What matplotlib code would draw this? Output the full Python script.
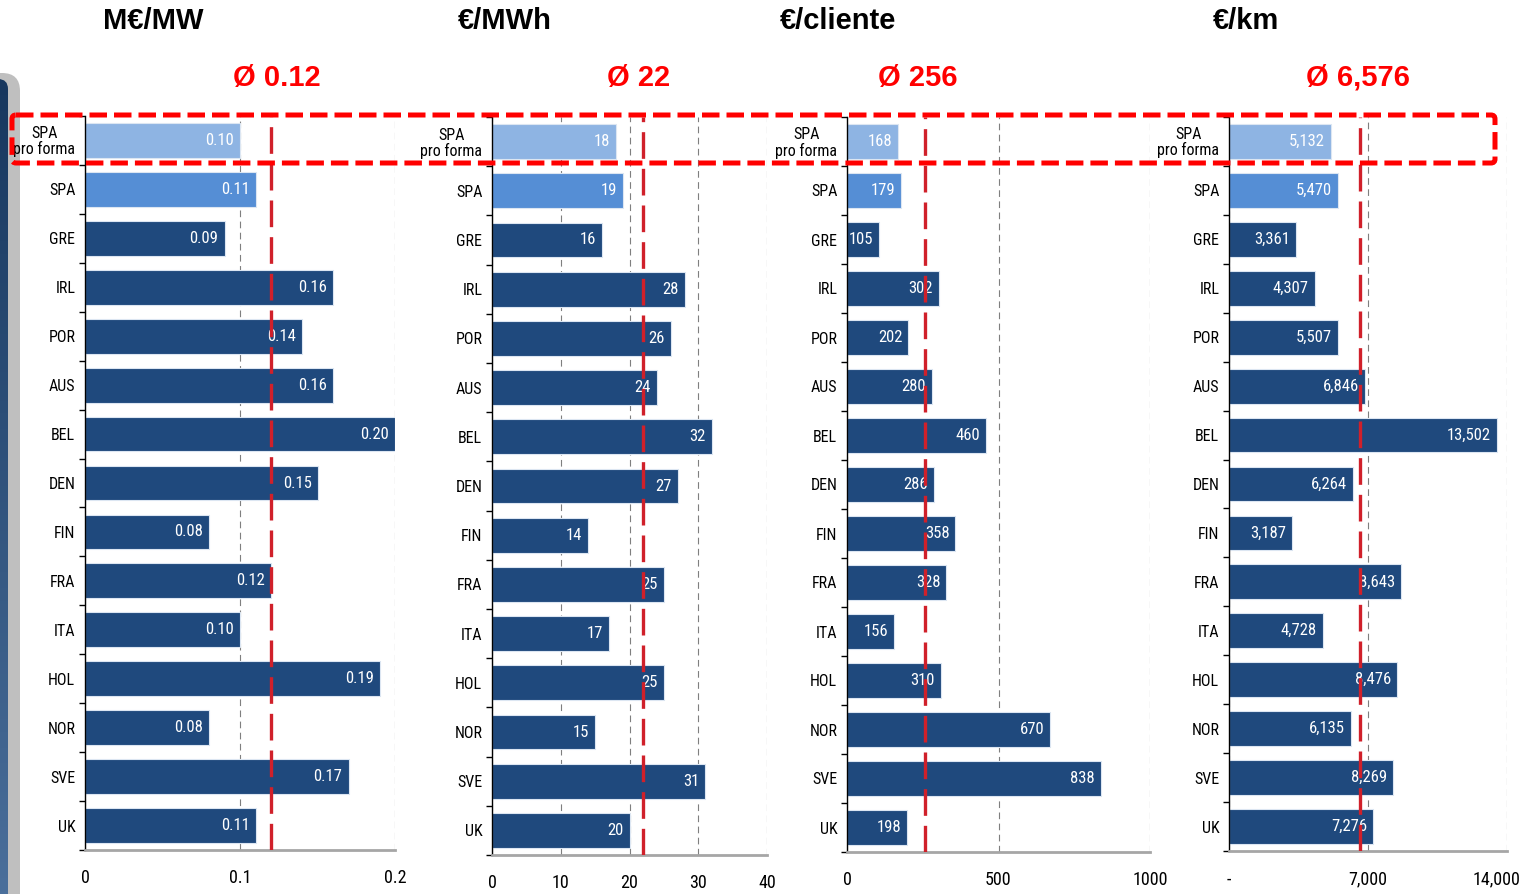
import numpy as np
import matplotlib
matplotlib.use("Agg")
import matplotlib.pyplot as plt
import matplotlib.transforms as mtransforms
from matplotlib import font_manager
from matplotlib.font_manager import FontProperties
from matplotlib.patches import FancyBboxPatch
from matplotlib.ticker import FixedLocator

W, H = 1522, 894

# data
countries = ["SPA\npro forma", "SPA", "GRE", "IRL", "POR", "AUS", "BEL", "DEN",
             "FIN", "FRA", "ITA", "HOL", "NOR", "SVE", "UK"]
eur_mw = [0.10, 0.11, 0.09, 0.16, 0.14, 0.16, 0.20, 0.15, 0.08, 0.12, 0.10, 0.19, 0.08, 0.17, 0.11]
eur_mwh = [18, 19, 16, 28, 26, 24, 32, 27, 14, 25, 17, 25, 15, 31, 20]
eur_cliente = [168, 179, 105, 302, 202, 280, 460, 286, 358, 328, 156, 310, 670, 838, 198]
eur_km = [5132, 5470, 3361, 4307, 5507, 6846, 13502, 6264, 3187, 8643, 4728, 8476, 6135, 8269, 7276]

units = ["M€/MW", "€/MWh", "€/cliente", "€/km"]
averages = [0.12, 22, 256, 6576]
avg_labels = ["Ø 0.12", "Ø 22", "Ø 256", "Ø 6,576"]
x_ticks = [[0, 0.1, 0.2], [0, 10, 20, 30, 40], [0, 500, 1000], [0, 7000, 14000]]
x_ticklabels = [["0", "0.1", "0.2"], ["0", "10", "20", "30", "40"],
                ["0", "500", "1000"], ["-", "7,000", "14,000"]]

series = [eur_mw, eur_mwh, eur_cliente, eur_km]
fmts = [lambda v: f"{v:.2f}", lambda v: f"{v:d}", lambda v: f"{v:d}", lambda v: f"{v:,}"]

# layout (pixels: left, top, right, bottom)
boxes = [(85, 116, 395, 850), (492, 117, 767, 855), (847, 117, 1150, 852), (1229, 117, 1507, 851)]
title_x = [153, 505, 838, 1246]
avg_x = [277, 639, 918, 1358]


def pick_narrow():
    # the chart uses an Arial Narrow look; take the closest condensed face installed
    ttf = font_manager.fontManager.ttflist
    prefs = [("Liberation Sans Narrow", None), ("Arial Narrow", None),
             ("Roboto Condensed", None), ("Noto Sans Condensed", None),
             ("Noto Sans", "condensed"), ("Open Sans Condensed", None),
             ("Open Sans", "condensed"), ("DejaVu Sans Condensed", None),
             ("DejaVu Sans", "condensed"), ("Noto Sans SemiCondensed", None),
             ("Noto Sans", "semi-condensed")]
    for name, stretch in prefs:
        for f in ttf:
            if f.name != name or f.style != "normal":
                continue
            if str(f.weight) not in ("400", "normal", "regular", "book"):
                continue
            if stretch is not None and f.stretch != stretch:
                continue
            return f.fname
    return None


narrow_file = pick_narrow()


def narrow(size):
    if narrow_file:
        return FontProperties(fname=narrow_file, size=size)
    return FontProperties(family="DejaVu Sans", size=size * 0.85)


C_PROFORMA = "#8EB4E3"
C_SPA = "#558ED5"
C_DARK = "#1F497D"
C_AVG = "#D0202A"

fig = plt.figure(figsize=(W / 100, H / 100), dpi=100)


def px_axes(l, t, r, b, **kw):
    return fig.add_axes([l / W, 1 - b / H, (r - l) / W, (b - t) / H], **kw)


# left side decoration
bg = fig.add_axes([0, 0, 1, 1], zorder=-1)
gray = FancyBboxPatch((-30, 73), 50, 900, boxstyle="round,pad=0,rounding_size=18",
                      facecolor="#BFBFBF", edgecolor="none", zorder=1)
bg.add_patch(gray)
blue = FancyBboxPatch((-30, 79), 38, 900, boxstyle="round,pad=0,rounding_size=10",
                      facecolor="none", edgecolor="none", zorder=1)
bg.add_patch(blue)
grad = np.linspace(0, 1, 256).reshape(-1, 1)
cmap = matplotlib.colors.LinearSegmentedColormap.from_list("band", ["#17375E", "#4A6F9B"])
im = bg.imshow(grad, cmap=cmap, extent=(-30, 8, H, 79), aspect="auto", zorder=2)
im.set_clip_path(blue)
bg.set_xlim(0, W)
bg.set_ylim(H, 0)
bg.axis("off")

y = np.arange(len(countries))
colors = [C_PROFORMA, C_SPA] + [C_DARK] * (len(countries) - 2)

for k in range(4):
    l, t, r, b = boxes[k]
    ax = px_axes(l, t, r, b)
    vals = series[k]
    xmax = x_ticks[k][-1]
    ax.barh(y, vals, height=0.71, color=colors, edgecolor="#DCE6F2", linewidth=0.8, zorder=2)
    ax.set_xlim(0, xmax)
    ax.set_ylim(len(countries) - 0.5, -0.5)

    ax.set_yticks(y)
    ax.set_yticklabels(countries, fontproperties=narrow(11.5))
    ax.get_yticklabels()[0].set_multialignment("center")
    ax.get_yticklabels()[0].set_linespacing(1.0)
    ax.yaxis.set_minor_locator(FixedLocator(np.arange(-0.5, len(countries), 1)))
    ax.tick_params(axis="y", which="major", length=0, pad=7)
    ax.tick_params(axis="y", which="minor", length=4, width=1, direction="out")

    ax.set_xticks(x_ticks[k])
    ax.set_xticklabels(x_ticklabels[k], fontproperties=narrow(13))
    ax.tick_params(axis="x", length=0, pad=14)

    ax.grid(axis="x", color="#7F7F7F", linestyle=(0, (6, 4)), linewidth=0.8)
    ax.set_axisbelow(True)
    for s in ["top", "right"]:
        ax.spines[s].set_visible(False)
    ax.spines["left"].set_color("black")
    ax.spines["left"].set_linewidth(1)
    ax.spines["bottom"].set_color("#A6A6A6")
    ax.spines["bottom"].set_linewidth(2)

    off = xmax * 6 / (r - l)
    for i, v in enumerate(vals):
        ax.text(v - off, i, fmts[k](v), ha="right", va="center", color="white",
                fontproperties=narrow(12), zorder=3)

    ax.axvline(averages[k], color=C_AVG, lw=2.4, linestyle=(0, (8, 3)), zorder=4)

    if k == 3:
        # last tick label sits against the right edge of the picture
        last = ax.get_xticklabels()[-1]
        last.set_horizontalalignment("right")
        last.set_transform(last.get_transform() +
                           mtransforms.ScaledTranslation(13 / 100, 0, fig.dpi_scale_trans))

# overlay: titles, averages, highlight box
ov = fig.add_axes([0, 0, 1, 1], zorder=10)
ov.set_xlim(0, W)
ov.set_ylim(H, 0)
ov.axis("off")
ov.patch.set_alpha(0)

for k in range(4):
    ov.text(title_x[k], 21, units[k], ha="center", va="center", fontsize=21,
            fontweight="bold", family="Liberation Sans", color="black")
    ov.text(avg_x[k], 78, avg_labels[k], ha="center", va="center", fontsize=21,
            fontweight="bold", family="Liberation Sans", color="#FF0000")

box = FancyBboxPatch((12, 115), 1483, 48, boxstyle="round,pad=0,rounding_size=4",
                     fill=False, edgecolor="#FF0000", linewidth=3.6,
                     linestyle=(0, (3.5, 1.4)))
ov.add_patch(box)

fig.savefig("out.png", dpi=100)
